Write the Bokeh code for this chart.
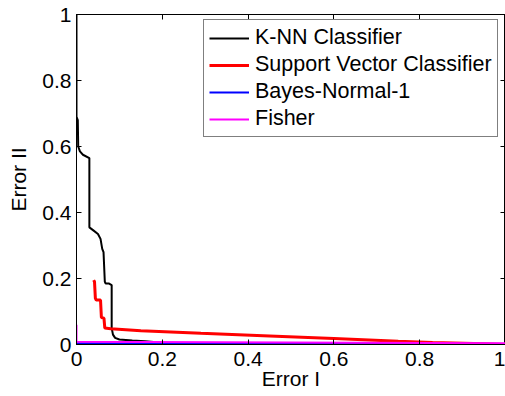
from bokeh.plotting import figure
from bokeh.models import LinearAxis, FixedTicker
from bokeh.embed import file_html
from bokeh.resources import INLINE

# ---- data ----
knn_x = [0, 0, 0.003, 0.004, 0.008, 0.015, 0.03, 0.03, 0.04, 0.05, 0.056, 0.06, 0.063,
         0.066, 0.068, 0.075, 0.082, 0.082, 0.085, 0.09, 0.1, 0.13, 0.16, 0.2, 0.3, 0.5, 1.0]
knn_y = [1, 0.69, 0.68, 0.6, 0.585, 0.575, 0.565, 0.355, 0.345, 0.335, 0.32, 0.29, 0.28,
         0.19, 0.185, 0.185, 0.18, 0.05, 0.03, 0.02, 0.015, 0.012, 0.01, 0.005, 0.003, 0.001, 0]

svc_x = [0.04, 0.042, 0.044, 0.046, 0.056, 0.058, 0.064, 0.066, 0.08, 0.15, 0.29, 0.45, 0.6, 0.75, 0.83, 0.95, 1.0]
svc_y = [0.195, 0.19, 0.14, 0.135, 0.135, 0.082, 0.08, 0.05, 0.048, 0.042, 0.034, 0.026, 0.018, 0.01, 0.006, 0.002, 0]

bayes_x = [0, 0.5, 1.0]
bayes_y = [0.004, 0.002, 0]

fisher_x = [0, 0, 0.5, 1.0]
fisher_y = [0.06, 0.008, 0.006, 0.004]

tick_values = [0, 0.2, 0.4, 0.6, 0.8, 1]
tick_labels = {0: "0", 0.2: "0.2", 0.4: "0.4", 0.6: "0.6", 0.8: "0.8", 1: "1"}

FONT = "Liberation Sans"
FS = "21px"

p = figure(width=505, height=396, x_range=(0, 1), y_range=(0, 1),
           output_backend="svg", toolbar_location=None,
           min_border_left=76, min_border_right=0, min_border_top=14, min_border_bottom=52)
p.xgrid.visible = False
p.ygrid.visible = False
p.outline_line_color = "black"
p.outline_line_width = 1
p.background_fill_color = "white"
p.border_fill_color = "white"

p.line(knn_x, knn_y, color="black", line_width=2, legend_label="K-NN Classifier")
p.line(svc_x, svc_y, color="#ff0000", line_width=3, legend_label="Support Vector Classifier")
p.line(bayes_x, bayes_y, color="#0000ff", line_width=2, legend_label="Bayes-Normal-1")
p.line(fisher_x, fisher_y, color="#ff00ff", line_width=2, legend_label="Fisher")

for ax in (p.xaxis[0], p.yaxis[0]):
    ax.ticker = FixedTicker(ticks=tick_values)
    ax.major_label_overrides = tick_labels
    ax.major_tick_in = 5
    ax.major_tick_out = 0
    ax.minor_tick_line_color = None
    ax.axis_line_color = "black"
    ax.major_tick_line_color = "black"
    ax.major_label_text_font = FONT
    ax.major_label_text_font_size = FS
    ax.major_label_text_color = "black"
    ax.axis_label_text_font = FONT
    ax.axis_label_text_font_size = FS
    ax.axis_label_text_font_style = "normal"
    ax.axis_label_text_color = "black"

p.xaxis.axis_label = "Error I"
p.yaxis.axis_label = "Error II"
p.xaxis.major_label_standoff = 7
p.xaxis.axis_label_standoff = -2
p.yaxis.major_label_standoff = 5
p.yaxis.axis_label_standoff = 9

blank = {t: "" for t in tick_values}
for loc in ("above", "right"):
    a = LinearAxis(ticker=FixedTicker(ticks=tick_values))
    a.major_label_overrides = blank
    a.major_tick_in = 5
    a.major_tick_out = 0
    a.minor_tick_line_color = None
    a.major_label_text_font_size = "1px"
    a.major_label_standoff = 0
    a.axis_line_color = "black"
    a.major_tick_line_color = "black"
    p.add_layout(a, loc)

lg = p.legend[0]
lg.location = (127, 207)
lg.label_text_font = FONT
lg.label_text_font_size = "21.5px"
lg.label_text_color = "black"
lg.glyph_width = 40
lg.label_standoff = 6
lg.padding = 5
lg.spacing = 2
lg.label_height = 25
lg.border_line_color = "black"
lg.border_line_width = 1
lg.background_fill_alpha = 1
lg.margin = 0

open("out.html", "w").write(file_html(p, INLINE))
